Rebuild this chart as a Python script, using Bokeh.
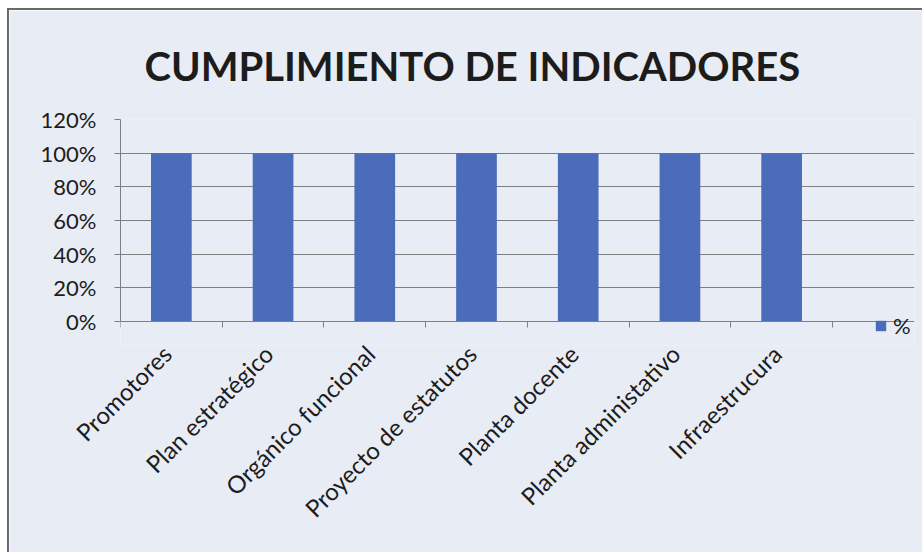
import math
from bokeh.plotting import figure
from bokeh.models import (FixedTicker, NumeralTickFormatter, Legend, LegendItem,
                          Range1d, LinearAxis)
from bokeh.embed import file_html
from bokeh.resources import INLINE

# ---- data ----
categories = ["Promotores", "Plan estratégico", "Orgánico funcional",
              "Proyecto de estatutos", "Planta docente", "Planta administativo",
              "Infraestrucura"]
values = [1.00, 1.00, 1.00, 1.00, 1.00, 1.00, 1.00]
y_ticks = [0.0, 0.2, 0.4, 0.6, 0.8, 1.0, 1.2]
series_name = "%"
title_text = "CUMPLIMIENTO DE INDICADORES"

FONT = "Lato"
TXT = "#1c1c1c"
AX = "#7f7f7f"
BG = "#e8ecf4"

n = len(categories)
xs = [i + 0.5 for i in range(n)]
bounds = list(range(n + 1))
LABEL_SHIFT = -0.045  # nudge rotated labels so their ends sit under the bar centres
label_pos = [x + LABEL_SHIFT for x in xs]

# frame extends right/below the axes so the legend can sit there
X_MAX = n + 82 / 101.7
Y_MIN = -24 / 169.2

p = figure(width=915, height=544, output_backend="svg", toolbar_location=None,
           x_range=Range1d(0, X_MAX), y_range=Range1d(Y_MIN, 1.2),
           min_border_left=111, min_border_right=10, min_border_top=108,
           min_border_bottom=209, title=title_text)
p.background_fill_color = BG
p.border_fill_color = BG
p.outline_line_color = None
p.styles = {"margin-left": "7px", "margin-top": "8px",
            "border-left": "2px solid #6a6a6a", "border-top": "2px solid #6a6a6a"}

p.title.text_font = FONT
p.title.text_font_style = "bold"
p.title.text_font_size = "40px"
p.title.text_color = TXT
p.title.align = "left"
p.title.offset = 24
p.title.standoff = 59

r = p.vbar(x=xs, top=values, width=0.4, fill_color="#4a6cbb", line_color=None)

# grid
p.xgrid.visible = False
p.ygrid.ticker = FixedTicker(ticks=y_ticks)
p.ygrid.grid_line_color = AX
p.ygrid.grid_line_width = 1.2
p.ygrid.bounds = (0, n)

# y axis
ya = p.yaxis[0]
ya.ticker = FixedTicker(ticks=y_ticks)
ya.bounds = (0, 1.2)
ya.formatter = NumeralTickFormatter(format="0%")
ya.axis_line_color = AX
ya.major_tick_line_color = AX
ya.major_tick_out = 6
ya.major_tick_in = 0
ya.minor_tick_line_color = None
ya.major_label_text_font = FONT
ya.major_label_text_font_size = "22px"
ya.major_label_text_color = TXT
ya.major_label_standoff = 18

# x axis labels (at the frame bottom, below the 0% line)
xa = p.xaxis[0]
xa.ticker = FixedTicker(ticks=label_pos)
xa.major_label_overrides = {x: c for x, c in zip(label_pos, categories)}
xa.axis_line_color = None
xa.major_tick_line_color = None
xa.minor_tick_line_color = None
xa.major_tick_out = 0
xa.major_tick_in = 0
xa.major_label_orientation = math.pi / 4
xa.major_label_text_font = FONT
xa.major_label_text_font_size = "24px"
xa.major_label_text_color = TXT
xa.major_label_standoff = 4

# x axis line with tick marks between categories, drawn at y = 0
xline = LinearAxis(fixed_location=0, bounds=(0, n),
                   ticker=FixedTicker(ticks=[], minor_ticks=bounds))
xline.axis_line_color = AX
xline.major_tick_line_color = None
xline.minor_tick_line_color = AX
xline.minor_tick_out = 6
xline.minor_tick_in = 0
xline.major_label_text_font_size = "0px"
xline.major_label_standoff = 0
p.add_layout(xline, "below")

legend = Legend(items=[LegendItem(label=series_name, renderers=[r])],
                location=(754, 6), glyph_width=13, glyph_height=13,
                label_text_font=FONT, label_text_font_size="22px",
                label_text_color=TXT, border_line_color=None,
                background_fill_alpha=0, padding=0, margin=0, label_standoff=6)
p.add_layout(legend)

html = file_html(p, INLINE)
html = html.replace("<body>", '<body style="background-color:%s;">' % BG, 1)
open("out.html", "w").write(html)
